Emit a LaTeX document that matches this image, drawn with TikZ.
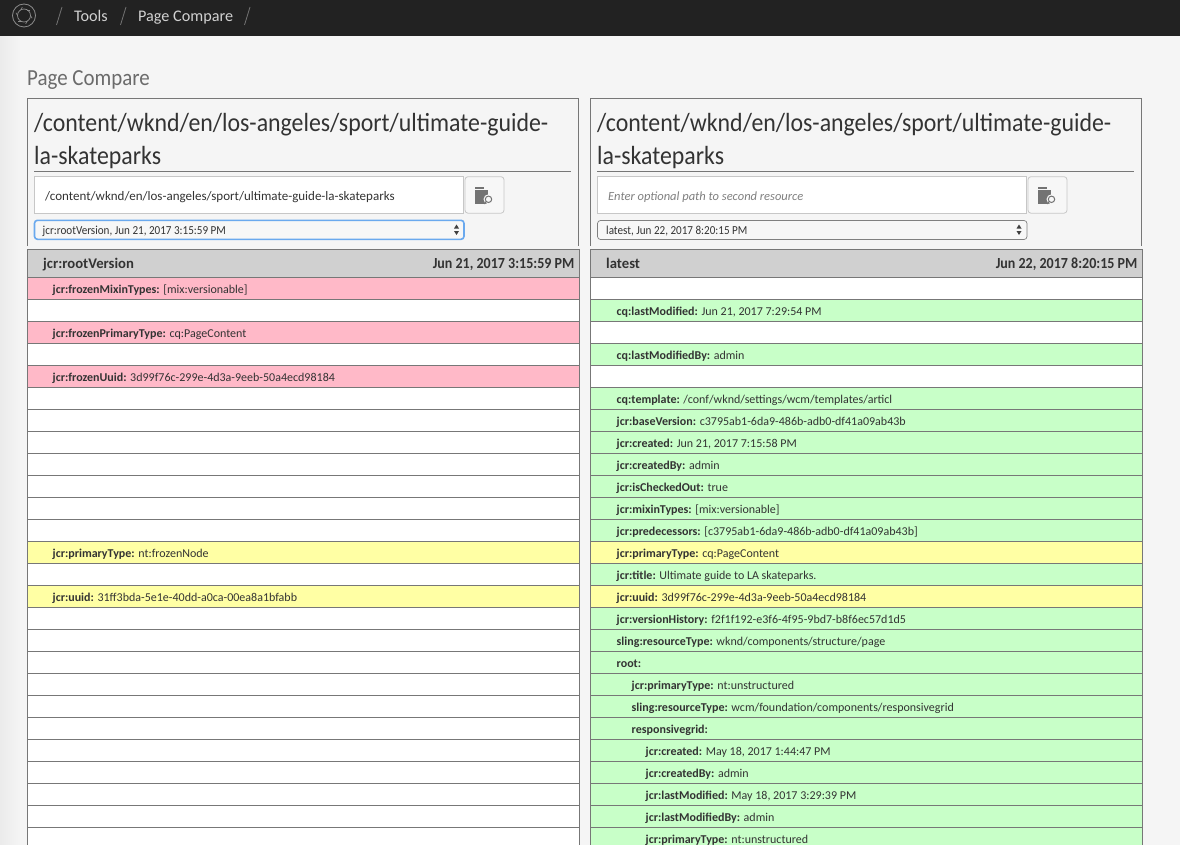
\documentclass[tikz,border=0pt]{standalone}
\usepackage{fontspec}
\setmainfont{Carlito}
\newfontfamily\narrowfont[FakeStretch=0.91]{Carlito}
\usetikzlibrary{positioning}
\definecolor{barblack}{HTML}{222222}
\definecolor{pagebg}{HTML}{F5F5F5}
\definecolor{headgray}{HTML}{D0D0D0}
\definecolor{rowline}{HTML}{777777}
\definecolor{rowpink}{HTML}{FFB9C8}
\definecolor{rowgreen}{HTML}{C8FFC8}
\definecolor{rowyellow}{HTML}{FFFFA4}
\definecolor{inkdark}{HTML}{333333}
\definecolor{focusblue}{HTML}{6AA9EE}
\tikzset{%
  rowcell/.style={draw=rowline, line width=.8pt, anchor=north west, outer sep=0pt, minimum width=552pt, minimum height=22pt, inner sep=0pt},
  rowtxt/.style={anchor=west, inner sep=0pt, yshift=-.7pt, text height=10pt, text depth=2pt, font=\fontsize{12}{14}\selectfont, text=inkdark},
  headtxt/.style={inner sep=0pt, yshift=-1.4pt, text height=10pt, text depth=3pt, font=\fontsize{14.7}{16}\bfseries\selectfont, text=inkdark},
  headdate/.style={inner sep=0pt, yshift=-1.4pt, text height=10pt, text depth=3pt, font=\narrowfont\fontsize{15.4}{16}\bfseries\selectfont, text=inkdark},
  crumbtxt/.style={anchor=base west, inner sep=0pt, font=\fontsize{16.2}{20}\selectfont, text=black!18},
  crumbsep/.style={draw=black!55, line width=.8pt},
  pathtxt/.style={anchor=base west, inner sep=0pt, font=\narrowfont\fontsize{26.2}{32}\selectfont, text=inkdark},
  fieldbox/.style={draw=black!22, fill=white, line width=.8pt, anchor=north west, outer sep=0pt, minimum width=429.5pt, minimum height=36.5pt, inner sep=0pt},
  iconbtn/.style={draw=black!22, fill=black!3, rounded corners=3pt, line width=.8pt, anchor=north west, outer sep=0pt, minimum width=39pt, minimum height=36.5pt, inner sep=0pt},
  selectbox/.style={draw=black!50, fill=black!3, rounded corners=3pt, line width=.7pt, anchor=north west, outer sep=0pt, minimum width=429.5pt, minimum height=19pt, inner sep=0pt},
  selecttxt/.style={anchor=west, inner sep=0pt, yshift=-.4pt, text height=10pt, text depth=2pt, font=\narrowfont\fontsize{12.2}{14}\selectfont, text=inkdark},
  fieldtxt/.style={anchor=west, inner sep=0pt, text height=10pt, text depth=2pt},
  panelline/.style={draw=rowline, line width=.8pt},
}
\newcommand{\kv}[2]{\textbf{#1:} #2}
\begin{document}
\begin{tikzpicture}[x=1pt,y=-1pt]
\useasboundingbox (0,0) rectangle (1180,845);
\clip (0,0) rectangle (1180,845);
\fill[pagebg] (0,0) rectangle (1180,845);
\shade[left color=black!8, right color=pagebg] (0,36) rectangle (20,845);
\fill[barblack] (0,0) rectangle (1180,36);
% top bar
\draw[black!45, line width=.8pt] (24,15.5) circle (11.5);
\draw[black!45, line width=.7pt] (24,15.5) circle (6.5);
\foreach \a in {0,60,...,300}
  \draw[black!45, line width=.6pt] (24,15.5) ++(\a:6.5) arc (\a+180:\a+120:3.2);
\draw[crumbsep] (56.5,25) -- (62,7);
\node[crumbtxt] (tools) at (74,21.5) {Tools};
\draw[crumbsep] (120.5,25) -- (126,7);
\node[crumbtxt] (crumbpage) at (138,21.5) {Page Compare};
\draw[crumbsep] (244.5,25) -- (250,7);
\node[anchor=base west, inner sep=0pt, font=\narrowfont\fontsize{23}{26}\selectfont, text=black!58] (pagetitle) at (27,85.7) {Page Compare};
% panels
\foreach \px/\nm in {27.5/l,590.5/r}{
  \draw[panelline] (\px,246) |- (\px+550.5,98.5) -- (\px+550.5,246);
  \draw[panelline] (\px+6.5,171.5) -- (\px+543.5,171.5);
  \node[pathtxt] (\nm path1) at (\px+6.5,131.3) {/content/wknd/en/los-angeles/sport/ultimate-guide-};
  \node[pathtxt] (\nm path2) at (\px+6.5,164.7) {la-skateparks};
  \node[fieldbox] (\nm field) at (\px+6.5,176.7) {};
  \node[iconbtn] (\nm btn) at (\px+437.5,176.7) {};
  % folder icon
  \fill[black!55] (\px+447.5,190) rectangle (\px+460,204);
  \fill[black!55] (\px+447.5,187) rectangle (\px+456.5,188.7);
  \fill[black!3] (\px+461,199.3) circle (5);
  \draw[black!55, line width=1pt] (\px+461,199.3) circle (3.2) (\px+458.8,201.6) -- (\px+456.5,204);
}
\node[fieldtxt, font=\fontsize{13}{15}\selectfont, text=inkdark] (lfieldtxt) at (45,196.4) {/content/wknd/en/los-angeles/sport/ultimate-guide-la-skateparks};
\node[fieldtxt, font=\fontsize{12.5}{15}\itshape\selectfont, text=black!50] (rfieldtxt) at (608,196.4) {Enter optional path to second resource};
% selects
\node[selectbox, draw=focusblue, line width=1.6pt] (lsel) at (34.5,220.3) {};
\node[selectbox] (rsel) at (597.5,220.5) {};
\node[selecttxt] (lseltxt) at (42.5,229.7) {jcr:rootVersion, Jun 21, 2017 3:15:59 PM};
\node[selecttxt] (rseltxt) at (606,229.7) {latest, Jun 22, 2017 8:20:15 PM};
\foreach \sx in {456.5,1019}{
  \fill[black!75] (\sx-2.5,228.5) -- (\sx+2.5,228.5) -- (\sx,224.5) -- cycle;
  \fill[black!75] (\sx-2.5,231) -- (\sx+2.5,231) -- (\sx,235) -- cycle;
}
% table heads
\node[rowcell, fill=headgray, minimum height=28.2pt] (lhead) at (27.5,249.5) {};
\node[rowcell, fill=headgray, minimum height=28.2pt] (rhead) at (590.5,249.5) {};
\node[headtxt, anchor=west, xshift=15.5pt] (lheadname) at (lhead.west) {jcr:rootVersion};
\node[headdate, anchor=east, xshift=-5pt] (lheaddate) at (lhead.east) {Jun 21, 2017 3:15:59 PM};
\node[headtxt, anchor=west, xshift=15.5pt] (rheadname) at (rhead.west) {latest};
\node[headdate, anchor=east, xshift=-5pt] (rheaddate) at (rhead.east) {Jun 22, 2017 8:20:15 PM};
% rows
\foreach \k/\col in {0/rowpink,1/white,2/rowpink,3/white,4/rowpink,5/white,6/white,7/white,8/white,9/white,10/white,11/white,12/rowyellow,13/white,14/rowyellow,15/white,16/white,17/white,18/white,19/white,20/white,21/white,22/white,23/white,24/white,25/white}
  \node[rowcell, fill=\col] (lrow\k) at (27.5,{277.7+22*\k}) {};
\foreach \k/\col in {0/white,1/rowgreen,2/white,3/rowgreen,4/white,5/rowgreen,6/rowgreen,7/rowgreen,8/rowgreen,9/rowgreen,10/rowgreen,11/rowgreen,12/rowyellow,13/rowgreen,14/rowyellow,15/rowgreen,16/rowgreen,17/rowgreen,18/rowgreen,19/rowgreen,20/rowgreen,21/rowgreen,22/rowgreen,23/rowgreen,24/rowgreen,25/rowgreen}
  \node[rowcell, fill=\col] (rrow\k) at (590.5,{277.7+22*\k}) {};
% left texts
\foreach \k/\key/\val in {0/jcr:frozenMixinTypes/{[mix:versionable]},2/jcr:frozenPrimaryType/cq:PageContent,4/jcr:frozenUuid/3d99f76c-299e-4d3a-9eeb-50a4ecd98184,12/jcr:primaryType/nt:frozenNode,14/jcr:uuid/31ff3bda-5e1e-40dd-a0ca-00ea8a1bfabb}
  \node[rowtxt, xshift=25pt] (ltxt\k) at (lrow\k.west) {\kv{\key}{\val}};
% right texts
\foreach \k/\ind/\key/\val in {1/26/cq:lastModified/{Jun 21, 2017 7:29:54 PM},3/26/cq:lastModifiedBy/admin,5/26/cq:template/{/conf/wknd/settings/wcm/templates/articl},6/26/jcr:baseVersion/c3795ab1-6da9-486b-adb0-df41a09ab43b,7/26/jcr:created/{Jun 21, 2017 7:15:58 PM},8/26/jcr:createdBy/admin,9/26/jcr:isCheckedOut/true,10/26/jcr:mixinTypes/{[mix:versionable]},11/26/jcr:predecessors/{[c3795ab1-6da9-486b-adb0-df41a09ab43b]},12/26/jcr:primaryType/cq:PageContent,13/26/jcr:title/{Ultimate guide to LA skateparks.},14/26/jcr:uuid/3d99f76c-299e-4d3a-9eeb-50a4ecd98184,15/26/jcr:versionHistory/f2f1f192-e3f6-4f95-9bd7-b8f6ec57d1d5,16/26/sling:resourceType/{wknd/components/structure/page},17/26/root/{},18/41/jcr:primaryType/nt:unstructured,19/41/sling:resourceType/{wcm/foundation/components/responsivegrid},20/41/responsivegrid/{},21/55/jcr:created/{May 18, 2017 1:44:47 PM},22/55/jcr:createdBy/admin,23/55/jcr:lastModified/{May 18, 2017 3:29:39 PM},24/55/jcr:lastModifiedBy/admin,25/55/jcr:primaryType/nt:unstructured}
  \node[rowtxt, xshift=\ind pt] (rtxt\k) at (rrow\k.west) {\kv{\key}{\val}};
\end{tikzpicture}
\end{document}
